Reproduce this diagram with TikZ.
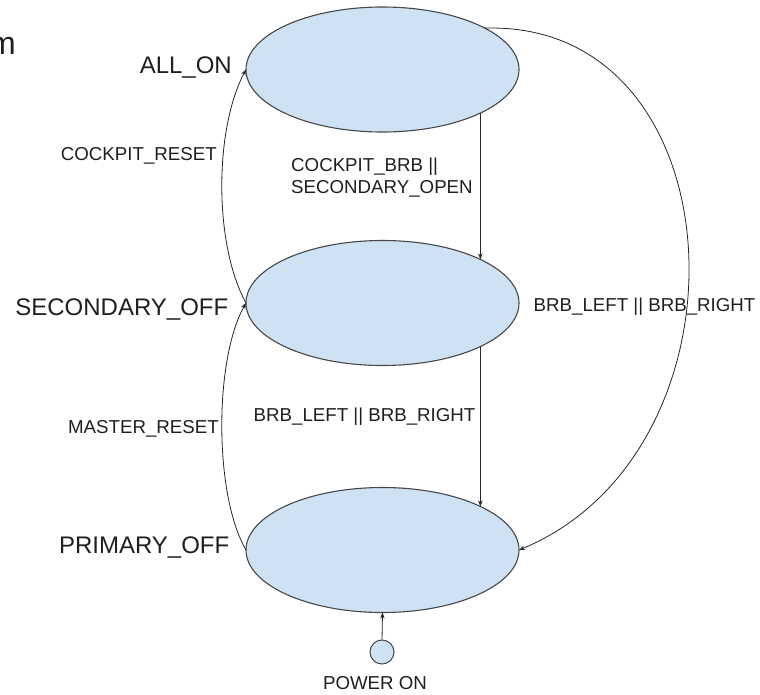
\documentclass[tikz,border=0pt]{standalone}
\usepackage{fontspec}
\setmainfont{Liberation Sans}
\usetikzlibrary{shapes.geometric,arrows.meta}
\definecolor{stfill}{HTML}{CFE2F3}
\definecolor{stline}{HTML}{474747}
\definecolor{txt}{HTML}{1F1F1F}
\begin{document}
\begin{tikzpicture}[x=1pt,y=-1pt,
  state/.style={ellipse,draw=stline,fill=stfill,line width=1.1pt,minimum width=273pt,minimum height=125pt,inner sep=0pt,outer sep=0pt},
  startdot/.style={circle,draw=stline,fill=stfill,line width=1pt,minimum size=24pt,inner sep=0pt,outer sep=0pt},
  bigtxt/.style={inner sep=0pt,text=txt,font=\fontsize{24}{28}\selectfont},
  lbl/.style={inner sep=0pt,text=txt,font=\fontsize{18.7}{22}\selectfont},
  conn/.style={draw=black!85,line width=0.8pt,-{Stealth[length=6pt,width=4.5pt]}}]
\useasboundingbox (0,0) rectangle (760,694);
% title fragment
\node[anchor=base east,inner sep=0pt,text=txt,font=\fontsize{32}{36}\selectfont] (title) at (16,54) {m};
% states
\node[state] (allon) at (382.5,69.5) {};
\node[state] (secoff) at (382.5,303) {};
\node[state] (primoff) at (382.5,550) {};
\node[startdot] (pwr) at (382,652) {};
% state names
\node[bigtxt,anchor=base east] (nallon) at (232,73) {ALL\_ON};
\node[bigtxt,anchor=base east] (nsecoff) at (228.5,315) {SECONDARY\_OFF};
\node[bigtxt,anchor=base east] (nprimoff) at (229.5,553) {PRIMARY\_OFF};
\node[lbl,anchor=base] (npwr) at (375,689) {POWER ON};
% transition labels
\node[lbl,anchor=base east] (lcr) at (217,160) {COCKPIT\_RESET};
\node[lbl,anchor=base east] (lmr) at (219,433) {MASTER\_RESET};
\node[lbl,anchor=base west] (lcb1) at (291,171) {COCKPIT\_BRB ||};
\node[lbl,anchor=base west] (lcb2) at (291,193) {SECONDARY\_OPEN};
\node[lbl,anchor=base west] (lbm) at (253.5,421) {BRB\_LEFT || BRB\_RIGHT};
\node[lbl,anchor=base west] (lbr) at (533.5,311) {BRB\_LEFT || BRB\_RIGHT};
% connectors
\draw[conn] (allon.-24.7) -- (secoff.24.7);
\draw[conn] (secoff.-24.7) -- (primoff.24.7);
\draw[conn] (pwr.north) -- (primoff.south);
\draw[conn] (allon.22) .. controls (740,20) and (760,450) .. (primoff.east);
\draw[conn] (secoff.west) .. controls (214,245) and (214,130) .. (allon.west);
\draw[conn] (primoff.west) .. controls (214,495) and (214,360) .. (secoff.west);
\end{tikzpicture}
\end{document}
